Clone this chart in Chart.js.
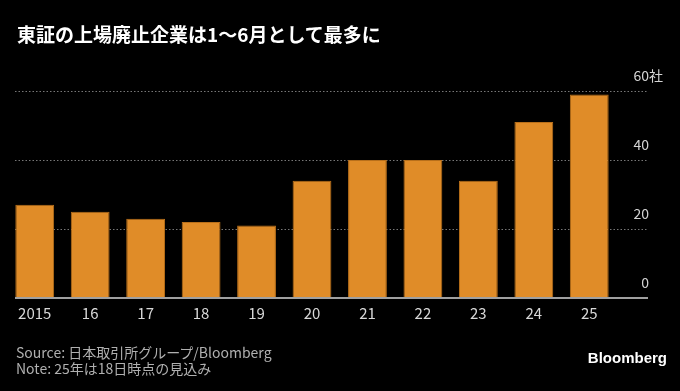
<!DOCTYPE html>
<html>
<head>
<meta charset="utf-8">
<script src="https://cdn.jsdelivr.net/npm/chart.js@4/dist/chart.umd.min.js"></script>
<style>
  html, body { margin: 0; padding: 0; background: #000; }
  #wrap { position: relative; width: 680px; height: 391px; overflow: hidden;
    font-family: "Noto Sans CJK JP", "Noto Sans", sans-serif; }
  #title { position: absolute; left: 17px; top: 20px; color: #fff; font-size: 19px; font-weight: bold; white-space: nowrap; }
  .foot { position: absolute; left: 16px; color: #b0b0b0; font-size: 14px; white-space: nowrap; }
  #brand { position: absolute; right: 13px; top: 349px; color: #fff; font-size: 15px; font-weight: bold;
    font-family: "Liberation Sans", Arial, sans-serif; }
  canvas { position: absolute; left: 0; top: 0; }
</style>
</head>
<body>
<div id="wrap">
  <canvas id="chart" width="680" height="391"></canvas>
  <div id="title">東証の上場廃止企業は1～6月として最多に</div>
  <div class="foot" style="top:342px">Source: 日本取引所グループ/Bloomberg</div>
  <div class="foot" style="top:358px">Note: 25年は18日時点の見込み</div>
  <div id="brand">Bloomberg</div>
</div>
<script>
const years = ['2015', '16', '17', '18', '19', '20', '21', '22', '23', '24', '25'];
const delistings = [27, 25, 23, 22, 21, 34, 40, 40, 34, 51, 59];
const yTicks = [0, 20, 40, 60];
const yUnit = '社';

const GRID_LEFT = 15;
const GRID_RIGHT = 648;

// dotted grid behind the bars, baseline and right-side labels on top
const rightAxis = {
  id: 'rightAxis',
  beforeDatasetsDraw(chart) {
    const { ctx, scales: { y } } = chart;
    ctx.save();
    ctx.strokeStyle = '#777';
    ctx.lineWidth = 1;
    ctx.setLineDash([1.5, 2]);
    yTicks.forEach(v => {
      if (v === 0) return;
      const py = Math.round(y.getPixelForValue(v)) + 0.5;
      ctx.beginPath();
      ctx.moveTo(GRID_LEFT, py);
      ctx.lineTo(GRID_RIGHT, py);
      ctx.stroke();
    });
    ctx.restore();
  },
  afterDatasetsDraw(chart) {
    const { ctx, scales: { y } } = chart;
    ctx.save();
    const py0 = y.getPixelForValue(0);
    ctx.strokeStyle = '#a0a0a0';
    ctx.lineWidth = 2;
    ctx.beginPath();
    ctx.moveTo(GRID_LEFT, py0);
    ctx.lineTo(GRID_RIGHT, py0);
    ctx.stroke();

    ctx.fillStyle = '#d4d4d4';
    ctx.font = '14px "Noto Sans CJK JP", "Noto Sans", sans-serif';
    ctx.textBaseline = 'middle';
    yTicks.forEach((v, i) => {
      const py = y.getPixelForValue(v) - 15;
      ctx.textAlign = 'right';
      ctx.fillText(String(v), 649, py);
      if (i === yTicks.length - 1) {
        ctx.textAlign = 'left';
        ctx.fillText(yUnit, 649, py);
      }
    });
    ctx.restore();
  }
};

new Chart(document.getElementById('chart'), {
  type: 'bar',
  data: {
    labels: years,
    datasets: [{
      data: delistings,
      backgroundColor: '#e08c28',
      borderColor: '#b86f1a',
      borderWidth: 1,
      borderSkipped: 'bottom',
      barPercentage: 0.7,
      categoryPercentage: 1
    }]
  },
  options: {
    responsive: false,
    animation: false,
    layout: { padding: { left: 7, right: 63, top: 91, bottom: 67 } },
    plugins: { legend: { display: false }, tooltip: { enabled: false } },
    scales: {
      x: {
        grid: { display: false, drawTicks: false },
        border: { display: false },
        ticks: {
          color: '#d8d8d8',
          padding: 6,
          maxRotation: 0,
          font: { size: 15, family: '"Noto Sans CJK JP", "Noto Sans", sans-serif' }
        },
        afterFit(scale) { scale.height = 26; }
      },
      y: {
        display: false,
        min: 0,
        max: 60
      }
    }
  },
  plugins: [rightAxis]
});
</script>
</body>
</html>
